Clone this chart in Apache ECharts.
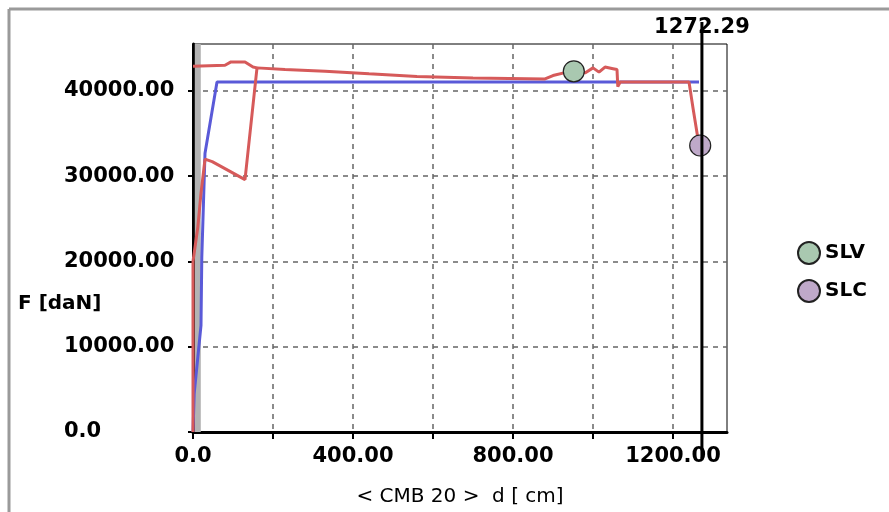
<!DOCTYPE html>
<html>
<head>
<meta charset="utf-8">
<script src="https://cdn.jsdelivr.net/npm/echarts@6/dist/echarts.min.js"></script>
<style>
  html, body { margin: 0; padding: 0; background: #fff; }
  #chart { width: 889px; height: 512px; }
</style>
</head>
<body>
<div id="chart"></div>
<script>
// axis ticks / labels
const xTicks = [0, 200, 400, 600, 800, 1000, 1200];
const xLabels = [0, 400, 800, 1200];
const yTicks = [0, 10000, 20000, 30000, 40000];
const cursorX = 1272.29;

// curves, [d cm, F daN]
const redMain = [
  [0, 0], [0, 20000], [12, 24000], [20, 28000], [30, 32000], [48, 31700],
  [130, 29600], [160, 42700], [230, 42500], [330, 42300], [440, 42000],
  [560, 41700], [700, 41500], [880, 41400], [900, 41800], [935, 42200],
  [965, 42600], [980, 42100], [1000, 42700], [1015, 42200], [1030, 42800],
  [1050, 42600], [1060, 42500], [1062, 40500], [1068, 41050], [1240, 41050],
  [1250, 38000], [1262, 34500], [1268, 33600]
];
const redTop = [
  [0, 42900], [80, 43000], [95, 43400], [130, 43400], [150, 42800], [160, 42700]
];
const blueCurve = [
  [0, 0], [3, 4500], [20, 12500], [22, 20500], [30, 32700], [60, 41050], [1265, 41050]
];
const grayBand = [[12, 0], [12, 45500]];
const slv = [[952, 42300]];
const slc = [[1268, 33600]];

const fmt = v => (v === 0 ? '0.0' : v.toFixed(2));
const FONT = 'DejaVu Sans';

const chart = echarts.init(document.getElementById('chart'));

const option = {
  animation: false,
  backgroundColor: '#fff',
  grid: {
    left: 193, right: 162, top: 44, bottom: 78,
    show: true, borderColor: '#000', borderWidth: 1
  },
  legend: {
    data: ['SLV', 'SLC'],
    orient: 'vertical',
    left: 792, top: 236,
    icon: 'circle',
    itemWidth: 22, itemHeight: 22, itemGap: 14,
    textStyle: { fontFamily: FONT, fontWeight: 'bold', fontSize: 20, color: '#000' }
  },
  xAxis: {
    type: 'value', min: 0, max: 1335, interval: 200,
    name: '< CMB 20 >  d [ cm]', nameLocation: 'middle', nameGap: 55,
    nameTextStyle: { fontFamily: FONT, fontSize: 20, color: '#000' },
    axisLine: { show: true, lineStyle: { color: '#000', width: 3 } },
    axisTick: { show: true, customValues: xTicks, length: 7, lineStyle: { color: '#000', width: 2 } },
    axisLabel: {
      customValues: xLabels, formatter: fmt, margin: 14,
      fontFamily: FONT, fontWeight: 'bold', fontSize: 21, color: '#000'
    },
    splitLine: { show: true, lineStyle: { color: '#666', width: 1.5, type: [5, 5] } }
  },
  yAxis: {
    type: 'value', min: 0, max: 45500, interval: 10000,
    axisLine: { show: true, lineStyle: { color: '#000', width: 3 } },
    axisTick: { show: true, customValues: yTicks, length: 5, lineStyle: { color: '#000', width: 2 } },
    axisLabel: {
      customValues: yTicks, formatter: fmt, margin: 129, align: 'left',
      fontFamily: FONT, fontWeight: 'bold', fontSize: 21, color: '#000'
    },
    splitLine: { show: true, lineStyle: { color: '#666', width: 1.5, type: [5, 5] } }
  },
  series: [
    {
      name: 'band', type: 'line', data: grayBand, symbol: 'none', z: 1,
      lineStyle: { color: '#b3b3b3', width: 6 }
    },
    {
      name: 'blue', type: 'line', data: blueCurve, symbol: 'none', z: 2,
      lineStyle: { color: '#5a5ad8', width: 3 }
    },
    {
      name: 'redTop', type: 'line', data: redTop, symbol: 'none', z: 3,
      lineStyle: { color: '#d65a5a', width: 3 }
    },
    {
      name: 'red', type: 'line', data: redMain, symbol: 'none', z: 3,
      lineStyle: { color: '#d65a5a', width: 3 }
    },
    {
      name: 'SLV', type: 'scatter', data: slv, symbol: 'circle', symbolSize: 21, z: 5,
      itemStyle: { color: '#a9c8b0', borderColor: '#222', borderWidth: 1.2, opacity: 1 }
    },
    {
      name: 'SLC', type: 'scatter', data: slc, symbol: 'circle', symbolSize: 21, z: 5,
      itemStyle: { color: '#bfa9c9', borderColor: '#222', borderWidth: 1.2, opacity: 1 }
    }
  ]
};

chart.setOption(option);

// cursor line placed through the axis scale
const cx = chart.convertToPixel({ xAxisIndex: 0 }, cursorX);
chart.setOption({
  graphic: [
    { type: 'line', shape: { x1: 9, y1: 9, x2: 889, y2: 9 }, style: { stroke: '#9a9a9a', lineWidth: 3 }, z: 10 },
    { type: 'line', shape: { x1: 9, y1: 9, x2: 9, y2: 512 }, style: { stroke: '#9a9a9a', lineWidth: 3 }, z: 10 },
    {
      type: 'text', left: 18, top: 294, z: 10,
      style: { text: 'F [daN]', fontFamily: FONT, fontWeight: 'bold', fontSize: 20, fill: '#000' }
    },
    {
      type: 'text', x: cx, y: 28, z: 10,
      style: {
        text: fmt(cursorX), fontFamily: FONT, fontWeight: 'bold', fontSize: 21, fill: '#000',
        align: 'center', verticalAlign: 'middle'
      }
    },
    { type: 'line', shape: { x1: cx, y1: 22, x2: cx, y2: 458 }, style: { stroke: '#000', lineWidth: 3 }, z: 20 }
  ]
});
</script>
</body>
</html>
